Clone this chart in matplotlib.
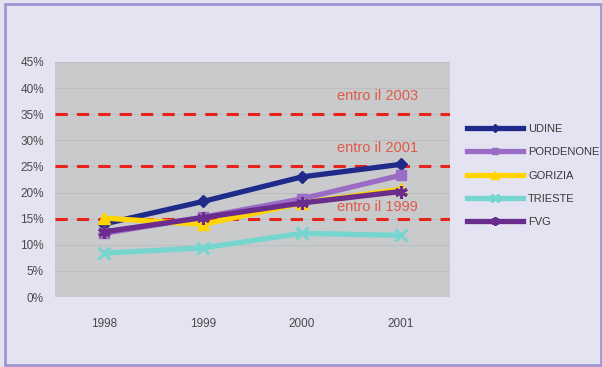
import numpy as np
import matplotlib.pyplot as plt
from matplotlib.patches import Rectangle

anni = ["1998", "1999", "2000", "2001"]
udine = [14.0, 18.3, 23.0, 25.4]
pordenone = [12.2, 15.3, 18.8, 23.3]
gorizia = [15.1, 13.9, 18.0, 20.6]
trieste = [8.4, 9.4, 12.2, 11.8]
fvg = [12.5, 15.2, 18.0, 20.2]

obiettivi = [15, 25, 35]
etichette_obiettivi = ["entro il 1999", "entro il 2001", "entro il 2003"]
y_etichette = [17.3, 28.6, 38.5]

plt.rcParams['font.family'] = ['Liberation Sans', 'DejaVu Sans']

fig = plt.figure(figsize=(6.02, 3.67), dpi=100)
fig.patch.set_facecolor('#E4E3F1')
fig.patches.append(Rectangle((0.008, 0.005), 0.99, 0.985, transform=fig.transFigure,
                             fill=False, edgecolor='#A096D2', linewidth=2))

ax = fig.add_axes([55 / 602, 1 - 297 / 367, 395 / 602, 235 / 367])
ax.set_facecolor('#C9CACC')

x = np.arange(len(anni))
ax.set_xlim(-0.5, len(anni) - 0.5)
ax.set_ylim(0, 45)
ax.set_yticks(np.arange(0, 46, 5))
ax.set_yticklabels([f"{v}%" for v in range(0, 46, 5)])
ax.set_xticks(x)
ax.set_xticklabels(anni)
ax.yaxis.grid(True, color='#BDBEC0', linewidth=0.8)
ax.set_axisbelow(True)
for s in ax.spines.values():
    s.set_visible(False)
ax.tick_params(length=0, labelsize=8.5, colors='#4A4A4A', pad=8)
ax.tick_params(axis='x', pad=15)

# linee obiettivo
for val, lab, yl in zip(obiettivi, etichette_obiettivi, y_etichette):
    ax.axhline(val, color='#E8231E', linestyle=(0, (4, 3)), linewidth=2.2, zorder=2)
    ax.text(2.77, yl, lab, color='#E05A48', fontsize=10.5, ha='center', va='center')

serie = [
    ("UDINE", udine, '#1F2A8A', 'D', 6),
    ("PORDENONE", pordenone, '#9A6CC6', 's', 7),
    ("GORIZIA", gorizia, '#FFD400', '^', 8),
    ("TRIESTE", trieste, '#76D6CF', 'x', 8),
    ("FVG", fvg, '#6A2D8E', (6, 2, 0), 9),
]
for nome, vals, col, mk, ms in serie:
    kw = dict(markeredgewidth=2.2) if mk in ('x',) or isinstance(mk, tuple) else {}
    ax.plot(x, vals, color=col, linewidth=3.8, marker=mk, markersize=ms,
            markerfacecolor=col, markeredgecolor=col, label=nome, zorder=3, **kw)

leg = fig.legend(loc='upper left', bbox_to_anchor=(457 / 602, 1 - 114 / 367),
                 frameon=False, fontsize=8, handlelength=5.0, labelspacing=1.2,
                 handletextpad=0.5, markerscale=0.7)
for t in leg.get_texts():
    t.set_color('#3A3A3A')

fig.savefig("out.png", dpi=100, facecolor=fig.get_facecolor())
